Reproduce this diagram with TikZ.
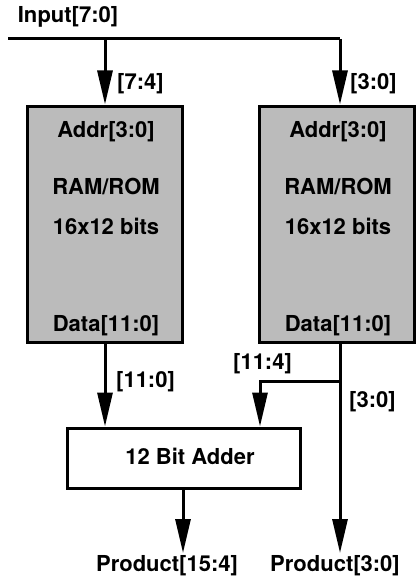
\documentclass[tikz,border=0pt]{standalone}
\usepackage{fontspec}
\setmainfont{TeX Gyre Heros}
\usetikzlibrary{arrows.meta}
\definecolor{memgray}{RGB}{187,187,187}
\tikzset{
  wire/.style={line width=3pt, -{Triangle[length=34pt,width=15pt]}},
  plainwire/.style={line width=3pt},
  membox/.style={draw, line width=3pt, fill=memgray, minimum width=155pt, minimum height=236pt, inner sep=0pt},
  adderbox/.style={draw, line width=3pt, fill=white, minimum width=233pt, minimum height=60pt, inner sep=0pt},
  txt/.style={font=\fontsize{22}{25}\selectfont\bfseries, inner sep=0pt},
}
\begin{document}
\begin{tikzpicture}[x=1pt,y=-1pt]
\useasboundingbox (0,0) rectangle (415,578);
% boxes
\node[membox] (ramL) at (104.5,224) {};
\node[membox] (ramR) at (337,224) {};
\node[adderbox] (adder) at (183.5,458) {};
% box texts
\node[txt] (addrL) at (106,132) {Addr[3:0]};
\node[txt] (typeL) at (106,187) {RAM/ROM};
\node[txt] (sizeL) at (106,226) {16x12 bits};
\node[txt] (dataL) at (106,326) {Data[11:0]};
\node[txt] (addrR) at (338,132) {Addr[3:0]};
\node[txt] (typeR) at (338,187) {RAM/ROM};
\node[txt] (sizeR) at (338,226) {16x12 bits};
\node[txt] (dataR) at (338,326) {Data[11:0]};
\node[txt] (addtxt) at (190,456) {12 Bit Adder};
% labels
\node[txt] (inlab) at (68,17) {Input[7:0]};
\node[txt, anchor=west] (l74) at (117,84) {[7:4]};
\node[txt, anchor=west] (l30a) at (350,84) {[3:0]};
\node[txt, anchor=west] (l110) at (116,382) {[11:0]};
\node[txt, anchor=west] (l114) at (233,364) {[11:4]};
\node[txt, anchor=west] (l30b) at (349,402) {[3:0]};
\node[txt] (pHi) at (167,566) {Product[15:4]};
\node[txt] (pLo) at (335,566) {Product[3:0]};
% coordinates
\coordinate (inStart) at (8,39);
\coordinate (tapL) at (105,39);
\coordinate (cornerR) at (340,39);
\coordinate (split) at (340,381);
\coordinate (bendA) at (260,381);
\coordinate (outHi) at (183,553);
\coordinate (outLo) at (340,553);
% wires
\draw[plainwire] (inStart) -- (cornerR);
\draw[wire] (tapL) -- (tapL |- ramL.north);
\draw[wire] (cornerR) -- (cornerR |- ramR.north);
\draw[wire] (ramL.south -| tapL) -- (tapL |- adder.north);
\draw[wire] (ramR.south -| cornerR) -- (outLo);
\draw[wire, line join=miter] (split) -- (bendA) -- (bendA |- adder.north);
\draw[wire] (adder.south -| outHi) -- (outHi);
\end{tikzpicture}
\end{document}
